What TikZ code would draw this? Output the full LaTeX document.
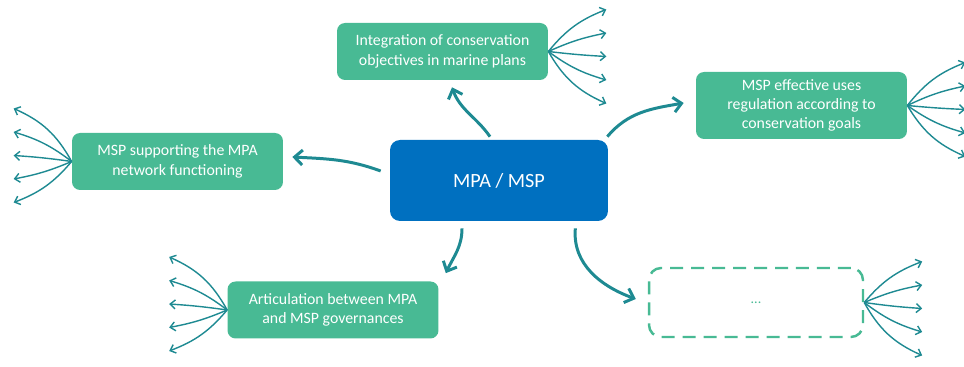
\documentclass[tikz,border=0pt]{standalone}
\usepackage{fontspec}
\setmainfont{Carlito}
\usepackage{xcolor}
\usepackage{tikz}
\usetikzlibrary{arrows.meta, calc}

\definecolor{hubblue}{RGB}{0,112,192}
\definecolor{topicgreen}{RGB}{72,186,148}
\definecolor{linkteal}{RGB}{30,138,146}

\begin{document}
\begin{tikzpicture}[
    x=0.02cm, y=0.02cm,
    hub/.style={rectangle, rounded corners=0.2cm, fill=hubblue, text=white, minimum width=4.36cm, minimum height=1.62cm, font=\fontsize{11.5}{14}\selectfont},
    topic/.style={rectangle, rounded corners=0.16cm, fill=topicgreen, text=white, minimum width=4.22cm, minimum height=1.14cm, align=center, font=\fontsize{9}{11}\selectfont},
    pendbox/.style={rectangle, rounded corners=0.24cm, draw=topicgreen, line width=1.4pt, dash pattern=on 2.6mm off 1.6mm, minimum width=4.28cm, minimum height=1.38cm, text=topicgreen, font=\fontsize{8}{10}\selectfont},
    link/.style={-{Straight Barb[length=1.6mm, width=3mm]}, line width=1.7pt, draw=linkteal},
    fan/.style={-{Straight Barb[length=1mm, width=1.8mm]}, line width=0.8pt, draw=linkteal}
]
\useasboundingbox (0,0) rectangle (964,367);

% Centre
\node[hub] (hub) at (499,186.5) {MPA / MSP};

% Topics around the centre
\node[topic] (integ) at (442.5,315.5) {Integration of conservation\\objectives in marine plans};
\node[topic, minimum height=1.34cm] (effect) at (801.5,261.5) {MSP effective uses\\regulation according to\\conservation goals};
\node[topic] (support) at (177.5,205.5) {MSP supporting the MPA\\network functioning};
\node[topic] (artic) at (333,57) {Articulation between MPA\\and MSP governances};
\node[pendbox] (more) at (756,64.5) {...};

% Links from the centre to the topics
\draw[link] ([xshift=-0.18cm, yshift=0.06cm]hub.north) to[out=125, in=-70] ([xshift=0.19cm, yshift=-0.14cm]integ.south);
\draw[link] ([xshift=-0.02cm, yshift=0.06cm]hub.north east) to[out=50, in=190] ([xshift=-0.24cm, yshift=0.05cm]effect.west);
\draw[link] ([xshift=-0.18cm, yshift=0.19cm]hub.west) to[out=160, in=-3] ([xshift=0.18cm, yshift=0.09cm]support.east);
\draw[link] ([xshift=-0.74cm, yshift=-0.14cm]hub.south) to[out=-90, in=65] ([xshift=0.14cm, yshift=0.16cm]artic.north east);
\draw[link] ([xshift=-0.66cm, yshift=-0.14cm]hub.south east) to[out=-95, in=160] ([xshift=-0.24cm, yshift=0.07cm]more.west);

% Fans of open ends on every topic
\foreach \n/\a/\s/\c in {integ/east/1/-5, effect/east/1/-4, more/east/1/-6, support/west/-1/6, artic/west/-1/6} {
  \foreach \k in {-2,...,2} {
    \pgfmathsetmacro{\dy}{\c-23.5*\k}
    \pgfmathsetmacro{\b}{0.35*\s*\dy}
    \coordinate (\n-tip\k) at ($(\n.\a)+(\s*58,\dy)$);
    \draw[fan] (\n.\a) to[bend left=\b] (\n-tip\k);
  }
}

\end{tikzpicture}
\end{document}
